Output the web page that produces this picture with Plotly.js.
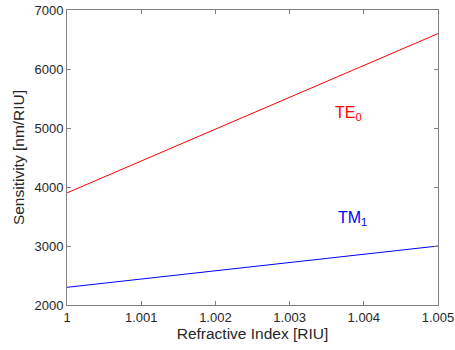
<!DOCTYPE html>
<html><head><meta charset="utf-8">
<script src="https://cdn.plot.ly/plotly-3.0.1.min.js"></script>
<style>html,body{margin:0;padding:0;background:#fff}#c{width:455px;height:350px}</style>
</head><body><div id="c"></div>
<script>
var refractiveIndex = [1, 1.001, 1.002, 1.003, 1.004, 1.005];
var sensTE0 = [3900, 4440, 4980, 5520, 6060, 6600];
var sensTM1 = [2300, 2440, 2580, 2720, 2860, 3000];
var xTicks = [1, 1.001, 1.002, 1.003, 1.004, 1.005];
var xTickText = ['1', '1.001', '1.002', '1.003', '1.004', '1.005'];
var yTicks = [2000, 3000, 4000, 5000, 6000, 7000];

var traces = [
  {x: refractiveIndex, y: sensTE0, mode: 'lines', line: {color: '#ff0000', width: 1}, showlegend: false},
  {x: refractiveIndex, y: sensTM1, mode: 'lines', line: {color: '#0000ff', width: 1}, showlegend: false}
];
var fam = 'Liberation Sans, Arial, sans-serif';
var axisCommon = {
  showgrid: false, zeroline: false, showline: true, linecolor: '#808080', linewidth: 1,
  mirror: 'ticks', ticks: 'inside', ticklen: 4, tickcolor: '#808080',
  tickfont: {family: fam, size: 13, color: '#262626'}
};
var layout = {
  width: 455, height: 350,
  margin: {l: 67, r: 17, t: 10, b: 45},
  paper_bgcolor: '#fff', plot_bgcolor: '#fff',
  xaxis: Object.assign({}, axisCommon, {
    range: [1, 1.005], tickvals: xTicks, ticktext: xTickText,
    title: {text: 'Refractive Index [RIU]', standoff: 4, font: {family: fam, size: 15.5, color: '#262626'}}
  }),
  yaxis: Object.assign({}, axisCommon, {
    range: [2000, 7000], tickvals: yTicks,
    title: {text: 'Sensitivity [nm/RIU]', standoff: 6, font: {family: fam, size: 15.5, color: '#262626'}}
  }),
  annotations: [
    {x: 1.00379, y: 5250, text: 'TE<sub>0</sub>', showarrow: false, font: {family: fam, size: 16, color: '#ff0000'}},
    {x: 1.00385, y: 3470, text: 'TM<sub>1</sub>', showarrow: false, font: {family: fam, size: 16, color: '#0000ff'}}
  ]
};
Plotly.newPlot('c', traces, layout, {displayModeBar: false, staticPlot: true});
</script></body></html>
